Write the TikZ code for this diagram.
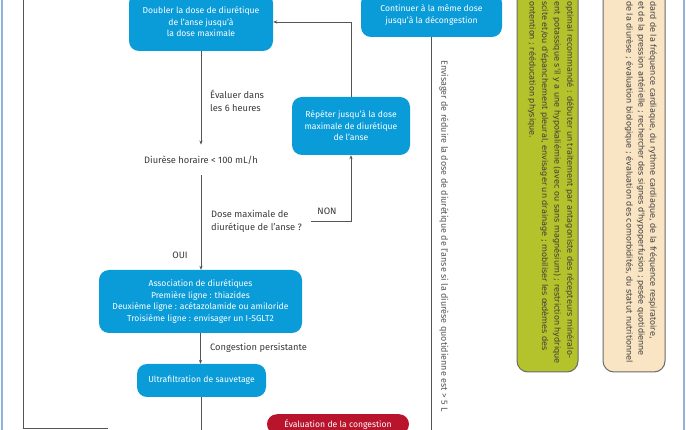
\documentclass[tikz,border=0pt]{standalone}
\usepackage{fontspec}
\setmainfont{Fira Sans}
\newfontfamily\sidefont{DejaVu Sans}
\usetikzlibrary{arrows.meta}
\definecolor{boxblue}{HTML}{0A9BD9}
\definecolor{boxred}{HTML}{B8142C}
\definecolor{boxgreen}{HTML}{B4C22C}
\definecolor{boxbeige}{HTML}{F9E4C3}
\definecolor{linegray}{HTML}{555555}
\definecolor{txtgray}{HTML}{3A3A3A}
\definecolor{frameblue}{HTML}{8FB2E0}
\definecolor{sideborder}{HTML}{6A6A6A}
\tikzset{
  flowbox/.style={fill=boxblue, text=white, rounded corners=10pt, align=center, inner sep=0pt,
    font=\fontsize{8.6}{11.6}\selectfont},
  redbox/.style={flowbox, fill=boxred},
  lbl/.style={text=txtgray, inner sep=0pt, font=\fontsize{9.3}{12.8}\selectfont},
  conn/.style={draw=linegray, line width=0.9pt},
  arr/.style={conn, -{Stealth[length=4pt,width=3.2pt]}},
  sidebox/.style={draw=sideborder, line width=1pt, rounded corners=11pt},
  sidetext/.style={rotate=-90, anchor=north west, inner sep=0pt, align=left, text=txtgray}
}
\begin{document}
\begin{tikzpicture}[x=1pt,y=-1pt]
\clip (0,0) rectangle (686,430);
\fill[white] (0,0) rectangle (686,430);
% frame lines
\draw[frameblue, line width=1.5pt] (2,-5) -- (2,435);
\draw[frameblue, line width=1.5pt] (684,-5) -- (684,435);
% side boxes
\draw[sidebox, fill=boxgreen] (517,-20) rectangle (578,372);
\draw[sidebox, fill=boxbeige] (603,-20) rectangle (665,372);
\node[sidetext, font=\sidefont\fontsize{8.1}{12.6}\selectfont] (greentxt) at (574,1)
  {optimal recommandé : débuter un traitement par antagoniste des récepteurs minéralo-\\
   ent potassique s'il y a une hypokaliémie (avec ou sans magnésium) ; restriction hydrique\\
   scite et/ou d'épanchement pleural, envisager un drainage ; mobiliser les œdèmes des\\
   ontention ; rééducation physique.};
\node[sidetext, font=\sidefont\fontsize{8.1}{11.8}\selectfont] (beigetxt) at (657,1)
  {dard de la fréquence cardiaque, du rythme cardiaque, de la fréquence respiratoire,\\
   et de la pression artérielle ; rechercher des signes d'hypoperfusion ; pesée quotidienne\\
   de la diurèse ; évaluation biologique ; évaluation des comorbidités, du statut nutritionnel};
% flow boxes
\node[flowbox, minimum width=144pt, minimum height=58pt] (doubler) at (201,22)
  {Doubler la dose de diurétique\\de l'anse jusqu'à\\la dose maximale};
\node[flowbox, minimum width=141pt, minimum height=44pt] (continuer) at (431.5,15)
  {Continuer à la même dose\\jusqu'à la décongestion};
\node[flowbox, minimum width=118pt, minimum height=58pt] (repeter) at (351,126)
  {Répéter jusqu'à la dose\\maximale de diurétique\\de l'anse};
\node[flowbox, minimum width=203pt, minimum height=63pt] (assoc) at (200.5,301.5)
  {Association de diurétiques\\Première ligne : thiazides\\Deuxième ligne : acétazolamide ou amiloride\\Troisième ligne : envisager un I-SGLT2};
\node[flowbox, minimum width=129pt, minimum height=33pt] (ultra) at (201.5,380.5)
  {Ultrafiltration de sauvetage};
\node[redbox, minimum width=142pt, minimum height=20pt, anchor=north] (evalcong) at (338,414)
  {Évaluation de la congestion};
% labels
\node[lbl, inner ysep=11pt] (diurese) at (201,160) {Diurèse horaire < 100 mL/h};
\node[lbl, align=left, anchor=west] (evaluer) at (210,100.5) {Évaluer dans\\les 6 heures};
\node[lbl, align=left, anchor=west, inner xsep=0pt] (question) at (211,221.5) {Dose maximale de\\diurétique de l'anse ?};
\node[lbl] (oui) at (180,255) {OUI};
\node[lbl] (non) at (327,211) {NON};
\node[lbl, anchor=west] (congpers) at (210,348) {Congestion persistante};
\node[lbl, rotate=-90, font=\fontsize{9}{10}\selectfont, text=txtgray!85] (envisager) at (444,236)
  {Envisager de réduire la dose de diurétique de l'anse si la diurèse quotidienne est > 5 L};
% coordinates for free ends
\coordinate (contend) at (431.5,440);
\coordinate (ultraend) at (201.5,440);
\coordinate (ltop) at (23,-5);
\coordinate (lcorner) at (23,428);
\coordinate (lend) at (108,428);
% connectors
\draw[arr] (doubler.south) -- (diurese.north);
\draw[arr] (diurese.south) -- (diurese.south |- assoc.north);
\draw[arr] ([xshift=9pt]question.east) -| (repeter.south);
\draw[arr] (repeter.north) |- (doubler.east);
\draw[conn] (continuer.south) -- (contend);
\draw[arr] (assoc.south) -- (assoc.south |- ultra.north);
\draw[conn] (ultra.south) -- (ultraend);
\draw[conn] (ltop) -- (lcorner) -- (lend);
\end{tikzpicture}
\end{document}
